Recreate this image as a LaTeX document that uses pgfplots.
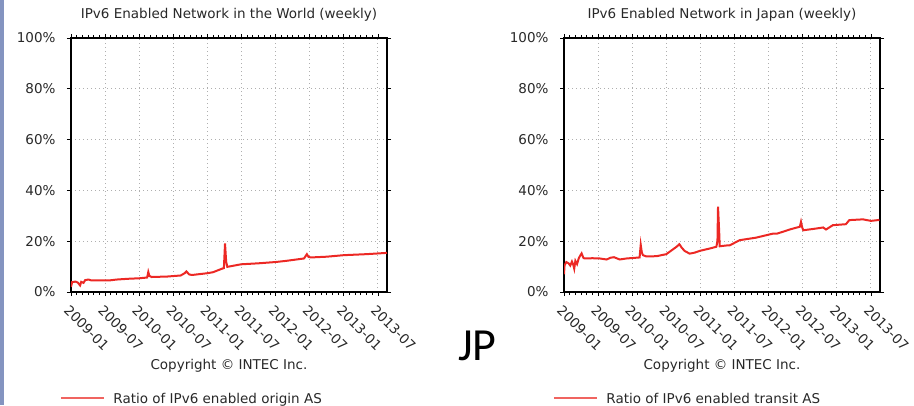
\documentclass[border=0pt]{standalone}
\usepackage{fontspec}
\setmainfont{DejaVu Sans}
\newfontfamily\jpfont{Carlito}
\usepackage{pgfplots}
\pgfplotsset{compat=1.18}
\definecolor{datared}{RGB}{236,40,36}
\definecolor{legred}{RGB}{240,100,96}
\definecolor{stripblue}{RGB}{132,148,192}
\definecolor{gridgray}{RGB}{175,175,175}
\definecolor{labgray}{RGB}{40,40,40}
\newcommand{\lblfont}{\fontsize{13.5}{15}\selectfont}

\pgfplotsset{
  ipv6/.style={
    scale only axis, width=316pt, height=254pt,
    anchor=south west,
    xmin=0, xmax=55.6, ymin=0, ymax=100,
    xtick={0,6,...,54},
    xticklabels={2009-01,2009-07,2010-01,2010-07,2011-01,2011-07,2012-01,2012-07,2013-01,2013-07},
    minor x tick num=5,
    ytick={0,20,...,100},
    yticklabels={0\%,20\%,40\%,60\%,80\%,100\%},
    tick align=outside,
    major tick length=4pt, minor tick length=3pt,
    every tick/.style={black, line width=0.8pt},
    axis line style={black, line width=1.2pt},
    grid=major,
    major grid style={gridgray, dash pattern=on 1.2pt off 2.8pt, line width=0.9pt},
    /pgf/number format/assume math mode=true,
    tick label style={font=\lblfont, text=labgray},
    yticklabel style={xshift=-8pt},
    xticklabel style={rotate=-45, anchor=north west, xshift=2pt, yshift=-3pt},
    every axis title/.style={at={(0.5,1)}, anchor=south, yshift=13pt, font=\lblfont, text=labgray},
    legend style={draw=none, fill=none, at={(-0.035,-0.417)}, anchor=west,
      font=\lblfont, text=labgray, inner sep=0pt,
      nodes={inner sep=0pt, text depth=0pt}},
    legend image code/.code={\draw[legred, line width=1.3pt] (0pt,0pt) -- (43pt,0pt) (52pt,0pt);},
    clip mode=individual,
  }
}

\begin{document}
\begin{tikzpicture}[x=1pt,y=1pt]
\useasboundingbox (0,0) rectangle (914,405);
\fill[stripblue] (0,0) rectangle (4,405);

\begin{axis}[ipv6, at={(71pt,113pt)},
  title={IPv6 Enabled Network in the World (weekly)}]
\addlegendimage{legred}
\addlegendentry{Ratio of IPv6 enabled origin AS}
\addplot[datared, line width=2pt, forget plot] coordinates {
(0,2.0) (0.2,3.9) (0.8,4.1) (1.2,3.7) (1.6,2.6) (1.8,4.0) (2.2,3.6) (2.5,4.7) (3.1,4.9) (3.5,4.6)
(4,4.6) (6.9,4.6) (8,4.9) (10,5.2) (12,5.4) (13.4,5.7) (13.6,7.9) (13.8,6.3) (14.2,5.9)
(17,6.1) (19.3,6.5) (20,7.4) (20.3,8.1) (20.8,6.9) (21.3,6.7) (24,7.4) (25,7.8)
(26.6,9.2) (26.9,9.4) (27.1,19.1) (27.3,12) (27.5,9.9) (28,10.1) (29.9,10.9)
(33,11.3) (36,11.8) (38,12.3) (41,13.2) (41.5,14.9) (41.8,13.8) (42.2,13.6)
(45,13.9) (48,14.5) (52,14.9) (55.6,15.4)
};
\node[font=\lblfont, text=labgray] at (rel axis cs:0.5,-0.291) {Copyright © INTEC Inc.};
\end{axis}

\begin{axis}[ipv6, at={(564pt,113pt)},
  title={IPv6 Enabled Network in Japan (weekly)}]
\addlegendimage{legred}
\addlegendentry{Ratio of IPv6 enabled transit AS}
\addplot[datared, line width=2pt, forget plot] coordinates {
(0,7.0) (0.1,10.5) (0.4,11.8) (0.8,11.3) (1.1,10.4) (1.4,12.0) (1.6,11.0) (1.8,9.2)
(2.0,12.3) (2.3,11.0) (2.6,13.3) (2.9,14.5) (3.1,15.2) (3.4,13.5) (3.6,13.2)
(5,13.3) (6.3,13.2) (7.5,12.8) (8.2,13.5) (8.8,13.7) (9.8,12.8) (11,13.2)
(13.3,13.6) (13.5,18.6) (13.7,15.5) (13.9,14.5) (14.5,14.0) (16.3,14.1) (18,14.9)
(19.8,17.8) (20.3,18.8) (20.7,17.5) (21.2,16.2) (22.1,15.1) (23,15.5) (23.9,16.2)
(25.6,17.1) (26.8,17.8) (27.0,20.0) (27.1,33.6) (27.3,24) (27.4,18.0) (28.5,18.3)
(29.2,18.4) (30.9,20.4) (33.8,21.4) (36.8,23.0) (37.5,23.0) (38.5,23.7) (39.7,24.6)
(41.5,25.7) (41.7,27.6) (41.9,25.5) (42.1,24.3) (44.4,25.0) (45.6,25.4) (46.1,24.6)
(47.3,26.3) (49.6,26.7) (50.2,28.3) (52.6,28.6) (54,28.0) (55.2,28.3) (55.5,28.4)
};
\node[font=\lblfont, text=labgray] at (rel axis cs:0.5,-0.291) {Copyright © INTEC Inc.};
\end{axis}

\node[font=\jpfont\fontsize{46}{46}\selectfont, anchor=base west, inner sep=0pt] at (458,45) {JP};
\end{tikzpicture}
\end{document}
